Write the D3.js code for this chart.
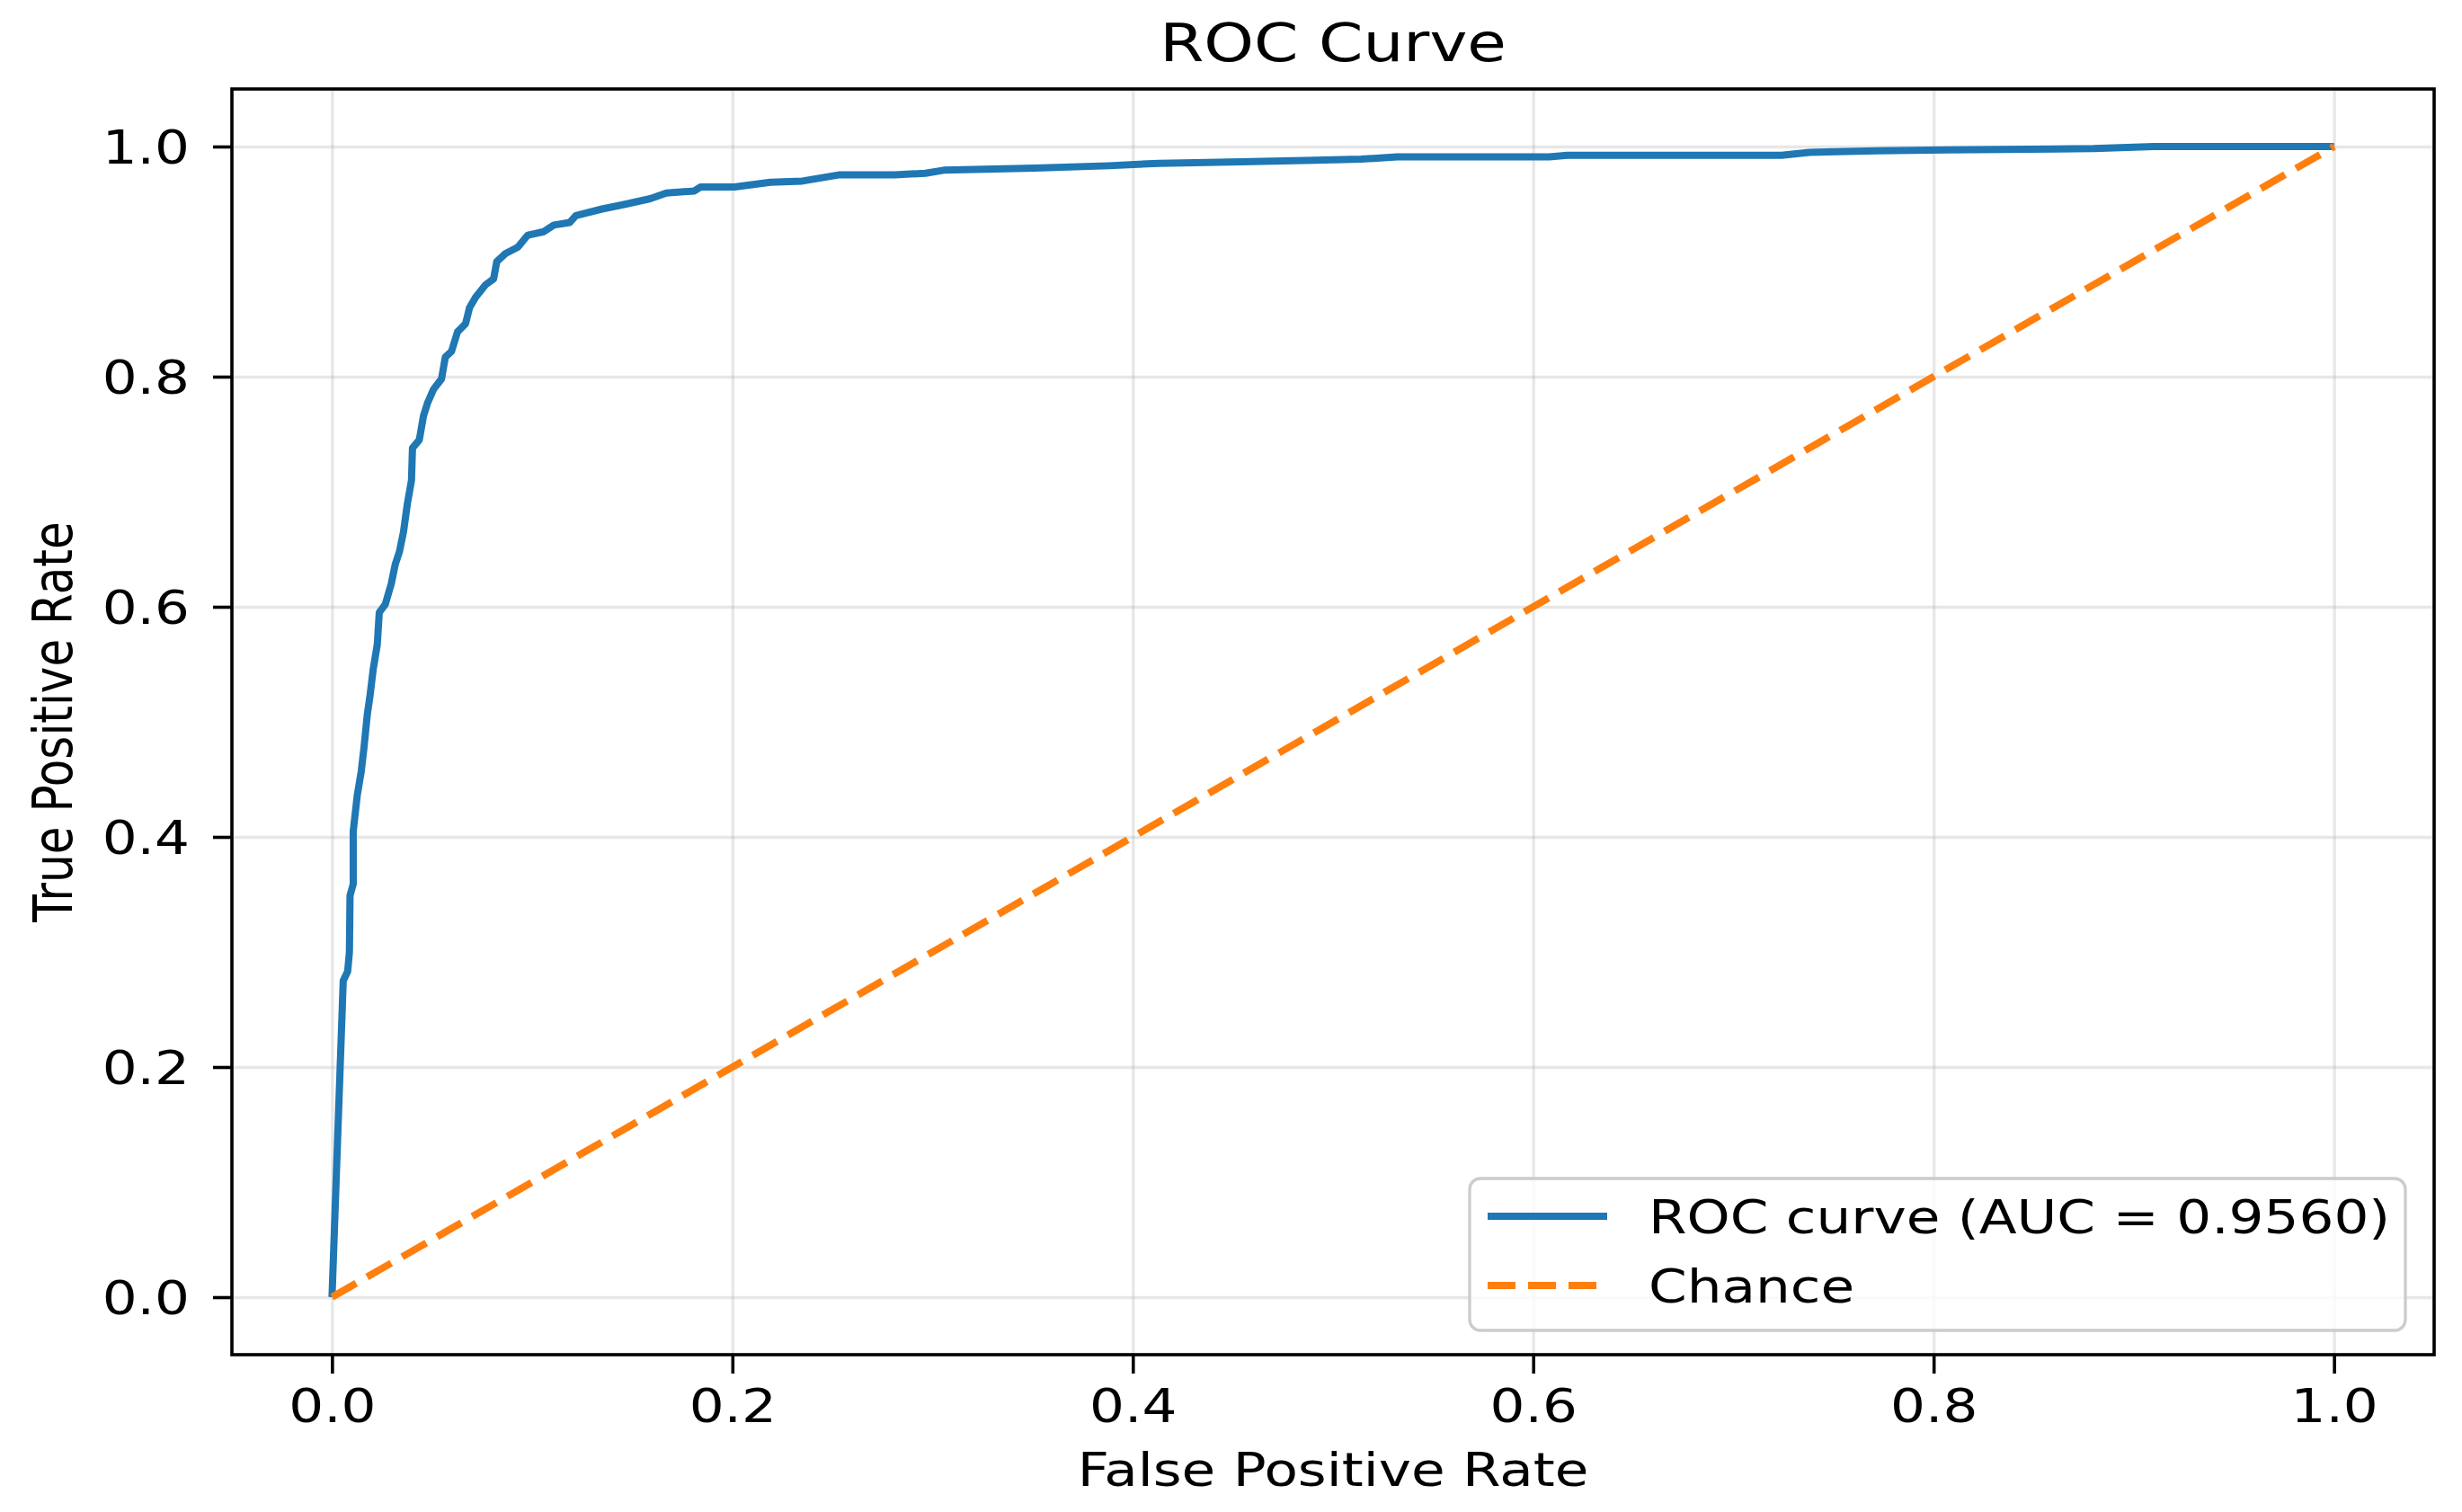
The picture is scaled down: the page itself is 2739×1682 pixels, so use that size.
<!DOCTYPE html>
<html>
<head>
<meta charset="utf-8">
<script src="https://cdn.jsdelivr.net/npm/d3@7"></script>
<style>
  body { margin: 0; background: #fff; }
  text { font-family: "DejaVu Sans", sans-serif; fill: #000; }
</style>
</head>
<body>
<script>
// ROC points
var fpr = [0, 0.0056, 0.0078, 0.0087, 0.0090, 0.0106, 0.0106, 0.0126, 0.0146, 0.0160,
  0.0176, 0.0190, 0.0206, 0.0226, 0.0236, 0.0266, 0.0296, 0.0316, 0.0337, 0.0357,
  0.0376, 0.0397, 0.0402, 0.0436, 0.0457, 0.0477, 0.0507, 0.0547, 0.0566, 0.0597,
  0.0627, 0.0667, 0.0687, 0.0717, 0.0768, 0.0807, 0.0823, 0.0867, 0.0928, 0.0978,
  0.1058, 0.1108, 0.1188, 0.1218, 0.1349, 0.1469, 0.159, 0.167, 0.181, 0.184,
  0.201, 0.219, 0.235, 0.253, 0.281, 0.2964, 0.3055, 0.351, 0.388, 0.413,
  0.454, 0.491, 0.514, 0.532, 0.608, 0.617, 0.651, 0.724, 0.738, 0.772,
  0.807, 0.880, 0.910, 1.0];
var tpr = [0, 0.275, 0.283, 0.300, 0.349, 0.359, 0.405, 0.436, 0.457, 0.478,
  0.506, 0.523, 0.546, 0.567, 0.595, 0.602, 0.620, 0.637, 0.648, 0.665,
  0.689, 0.710, 0.738, 0.745, 0.766, 0.777, 0.789, 0.798, 0.817, 0.822,
  0.839, 0.846, 0.860, 0.869, 0.880, 0.885, 0.900, 0.907, 0.9125, 0.923,
  0.926, 0.9317, 0.934, 0.940, 0.9457, 0.950, 0.9547, 0.9596, 0.9614, 0.9648,
  0.9648, 0.969, 0.970, 0.9753, 0.9753, 0.9768, 0.9794, 0.9812, 0.9833, 0.9854,
  0.9867, 0.988, 0.989, 0.9911, 0.9911, 0.9924, 0.9924, 0.9924, 0.995, 0.9963,
  0.9971, 0.9982, 1.0, 1.0];
var chanceX = [0, 1],
    chanceY = [0, 1];
var ticks = [0, 0.2, 0.4, 0.6, 0.8, 1.0];
var legendLabels = ["ROC curve (AUC = 0.9560)", "Chance"];
var titleText = "ROC Curve",
    xLabel = "False Positive Rate",
    yLabel = "True Positive Rate";

var width = 2739,
    height = 1682,
    margin = {left: 258, right: 31, top: 99, bottom: 175},
    sx = 1.2, // the picture's text is wider than it is tall
    lw = 8,
    dash = "31,14",
    spine = 3.6;

var x = d3.scaleLinear().domain([-0.05, 1.05]).range([margin.left, width - margin.right]);
var y = d3.scaleLinear().domain([-0.05, 1.05]).range([height - margin.bottom, margin.top]);

var svg = d3.select("body").append("svg")
    .attr("width", width)
    .attr("height", height);

svg.append("rect").attr("width", width).attr("height", height).attr("fill", "#fff");

// grid
svg.append("g")
    .attr("transform", "translate(0," + y.range()[0] + ")")
    .call(d3.axisBottom(x).tickValues(ticks).tickSize(-(y.range()[0] - y.range()[1])).tickFormat(""))
    .call(function(g) { g.select(".domain").remove(); })
    .selectAll("line").attr("stroke", "#b0b0b0").attr("stroke-opacity", 0.3).attr("stroke-width", 3.3);
svg.append("g")
    .attr("transform", "translate(" + x.range()[0] + ",0)")
    .call(d3.axisLeft(y).tickValues(ticks).tickSize(-(x.range()[1] - x.range()[0])).tickFormat(""))
    .call(function(g) { g.select(".domain").remove(); })
    .selectAll("line").attr("stroke", "#b0b0b0").attr("stroke-opacity", 0.3).attr("stroke-width", 3.3);

// curves
var roc = d3.range(fpr.length).map(function(i) { return [fpr[i], tpr[i]]; });
var chance = d3.range(chanceX.length).map(function(i) { return [chanceX[i], chanceY[i]]; });
var line = d3.line().x(function(d) { return x(d[0]); }).y(function(d) { return y(d[1]); });

svg.append("path")
    .attr("d", line(roc))
    .attr("fill", "none")
    .attr("stroke", "#1f77b4")
    .attr("stroke-width", lw)
    .attr("stroke-linejoin", "round");

svg.append("path")
    .attr("d", line(chance))
    .attr("fill", "none")
    .attr("stroke", "#ff7f0e")
    .attr("stroke-width", lw)
    .attr("stroke-dasharray", dash);

// axes
var fmt = d3.format(".1f");
var xAxis = svg.append("g")
    .attr("transform", "translate(0," + y.range()[0] + ")")
    .call(d3.axisBottom(x).tickValues(ticks).tickSize(21).tickSizeOuter(0).tickFormat(fmt));
xAxis.selectAll("text")
    .attr("y", 75).attr("dy", 0)
    .attr("transform", "scale(" + sx + ",1)");

var yAxis = svg.append("g")
    .attr("transform", "translate(" + x.range()[0] + ",0)")
    .call(d3.axisLeft(y).tickValues(ticks).tickSize(21).tickSizeOuter(0).tickFormat(fmt));
yAxis.selectAll("text")
    .attr("x", -47 / sx).attr("dy", "0.365em")
    .attr("transform", "scale(" + sx + ",1)");

[xAxis, yAxis].forEach(function(g) {
  g.select(".domain").remove();
  g.selectAll(".tick line").attr("stroke", "#000").attr("stroke-width", spine);
  g.selectAll("text").attr("font-size", 51).attr("font-family", "DejaVu Sans").attr("fill", "#000");
});

// frame
svg.append("rect")
    .attr("x", x.range()[0]).attr("y", y.range()[1])
    .attr("width", x.range()[1] - x.range()[0])
    .attr("height", y.range()[0] - y.range()[1])
    .attr("fill", "none").attr("stroke", "#000").attr("stroke-width", spine);

// titles
var cx = (x.range()[0] + x.range()[1]) / 2,
    cy = (y.range()[0] + y.range()[1]) / 2;

svg.append("text")
    .attr("transform", "translate(" + cx + ",68) scale(" + sx + ",1)")
    .attr("text-anchor", "middle").attr("font-size", 59)
    .text(titleText);

svg.append("text")
    .attr("transform", "translate(" + cx + ",1653) scale(" + sx + ",1)")
    .attr("text-anchor", "middle").attr("font-size", 51)
    .text(xLabel);

svg.append("text")
    .attr("transform", "translate(80," + cy + ") rotate(-90) scale(1," + sx + ")")
    .attr("text-anchor", "middle").attr("font-size", 50)
    .text(yLabel);

// legend
var legend = svg.append("g");
legend.append("rect")
    .attr("x", 1635).attr("y", 1311)
    .attr("width", 1041).attr("height", 169)
    .attr("rx", 12)
    .attr("fill", "#fff").attr("fill-opacity", 0.8)
    .attr("stroke", "#cccccc").attr("stroke-width", 3.3);

var legendColors = ["#1f77b4", "#ff7f0e"],
    legendDash = [null, dash],
    rowY = [1353, 1430];

legendLabels.forEach(function(label, i) {
  legend.append("line")
      .attr("x1", 1655).attr("x2", 1788)
      .attr("y1", rowY[i]).attr("y2", rowY[i])
      .attr("stroke", legendColors[i]).attr("stroke-width", lw)
      .attr("stroke-dasharray", legendDash[i]);
  legend.append("text")
      .attr("transform", "translate(1834," + (rowY[i] + 18.5) + ") scale(" + sx + ",1)")
      .attr("font-size", 51)
      .text(label);
});
</script>
</body>
</html>
